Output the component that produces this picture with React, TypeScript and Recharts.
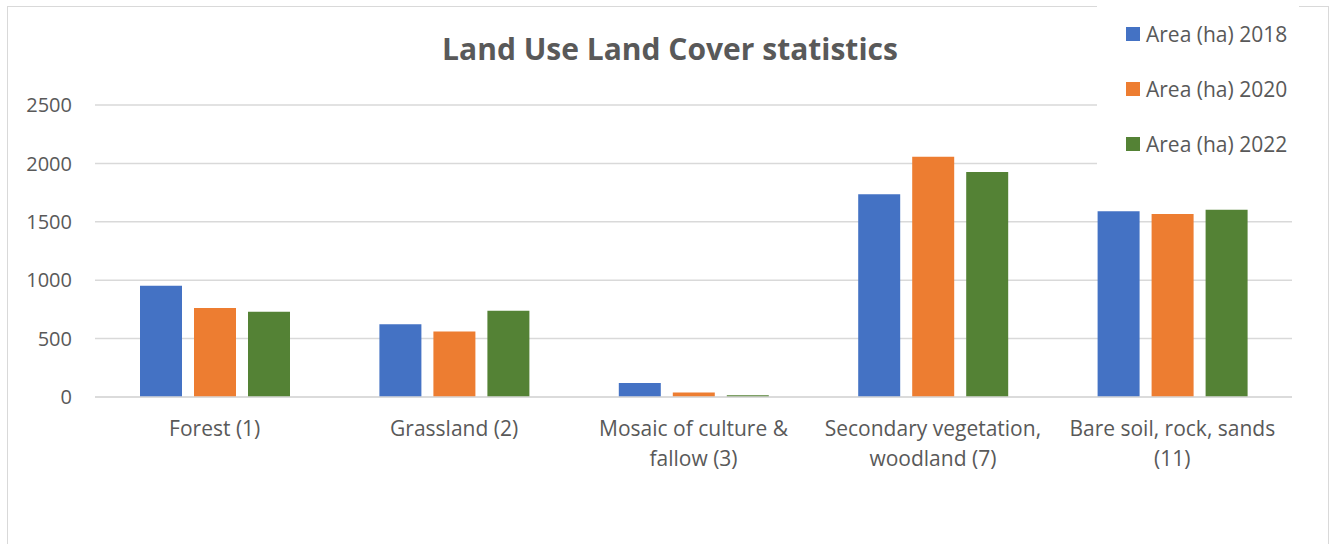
import React from 'react';
import { BarChart, Bar, XAxis, YAxis, CartesianGrid, Legend } from 'recharts';

const categories = [
  'Forest (1)',
  'Grassland (2)',
  'Mosaic of culture & fallow (3)',
  'Secondary vegetation, woodland (7)',
  'Bare soil, rock, sands (11)',
];
const area2018 = [952, 623, 120, 1736, 1590];
const area2020 = [763, 561, 38, 2056, 1567];
const area2022 = [729, 738, 15, 1927, 1604];
const yTicks = [0, 500, 1000, 1500, 2000, 2500];

const seriesList = [
  { key: 'a2018', name: 'Area (ha) 2018', color: '#4472c4' },
  { key: 'a2020', name: 'Area (ha) 2020', color: '#ed7d31' },
  { key: 'a2022', name: 'Area (ha) 2022', color: '#548235' },
];

const data = categories.map((name, i) => ({
  name,
  a2018: area2018[i],
  a2020: area2020[i],
  a2022: area2022[i],
}));

const FONT = '"Open Sans", sans-serif';
const TEXT = '#595959';

// wrap a label into lines of at most maxLen chars
function wrap(label: string, maxLen = 22): string[] {
  const words = label.split(' ');
  const lines: string[] = [];
  let cur = '';
  for (const w of words) {
    const next = cur ? cur + ' ' + w : w;
    if (next.length > maxLen && cur) {
      lines.push(cur);
      cur = w;
    } else {
      cur = next;
    }
  }
  if (cur) lines.push(cur);
  return lines;
}

const CategoryTick = (props: any) => {
  const { x, y, payload } = props;
  const lines = wrap(payload.value);
  return (
    <g transform={`translate(${x},${y})`}>
      {lines.map((line, i) => (
        <text
          key={i}
          x={0}
          y={24 + i * 30}
          dy="0.35em"
          textAnchor="middle"
          fill={TEXT}
          fontSize={21}
          fontFamily={FONT}
        >
          {line}
        </text>
      ))}
    </g>
  );
};

const LegendBox = () => (
  <div style={{ background: '#fff', width: 202, height: 165, paddingTop: 20, boxSizing: 'border-box' }}>
    {seriesList.map((s) => (
      <div
        key={s.key}
        style={{ display: 'flex', alignItems: 'center', height: 28, marginBottom: 27, fontFamily: FONT, fontSize: 21, color: TEXT, whiteSpace: 'nowrap' }}
      >
        <span style={{ display: 'inline-block', width: 14, height: 14, background: s.color, marginLeft: 29, marginRight: 6 }} />
        {s.name}
      </div>
    ))}
  </div>
);

export default function App() {
  return (
    <div style={{ position: 'absolute', left: 0, top: 0, width: 1333, height: 544, overflow: 'hidden', background: '#fff' }}>
      <div
        style={{
          position: 'absolute',
          left: 7,
          top: 6,
          width: 1322,
          height: 600,
          border: '1.5px solid #d9d9d9',
          boxSizing: 'border-box',
        }}
      />
      <div
        style={{
          position: 'absolute',
          left: 0,
          width: 1340,
          top: 28,
          textAlign: 'center',
          fontFamily: FONT,
          fontWeight: 700,
          fontSize: 30,
          color: TEXT,
        }}
      >
        Land Use Land Cover statistics
      </div>
      <div style={{ position: 'absolute', left: 0, top: 0 }}>
        <BarChart
          width={1333}
          height={544}
          data={data}
          margin={{ top: 105, right: 41, bottom: 0, left: 0 }}
          barSize={42}
          barGap={12}
        >
          <CartesianGrid vertical={false} stroke="#d9d9d9" strokeWidth={1.5} />
          <XAxis
            dataKey="name"
            tick={<CategoryTick />}
            tickLine={false}
            axisLine={{ stroke: '#d9d9d9', strokeWidth: 1.5 }}
            interval={0}
            height={147}
          />
          <YAxis
            width={95}
            domain={[0, 2500]}
            ticks={yTicks}
            axisLine={false}
            tickLine={false}
            tickMargin={17}
            tick={{ fill: TEXT, fontSize: 20, fontFamily: FONT }}
          />
          <Legend
            layout="horizontal"
            align="center"
            verticalAlign="middle"
            content={<LegendBox />}
            wrapperStyle={{ position: 'absolute', left: 1097, top: 0, width: 202 }}
          />
          {seriesList.map((s) => (
            <Bar key={s.key} dataKey={s.key} name={s.name} fill={s.color} isAnimationActive={false} />
          ))}
        </BarChart>
      </div>
    </div>
  );
}
